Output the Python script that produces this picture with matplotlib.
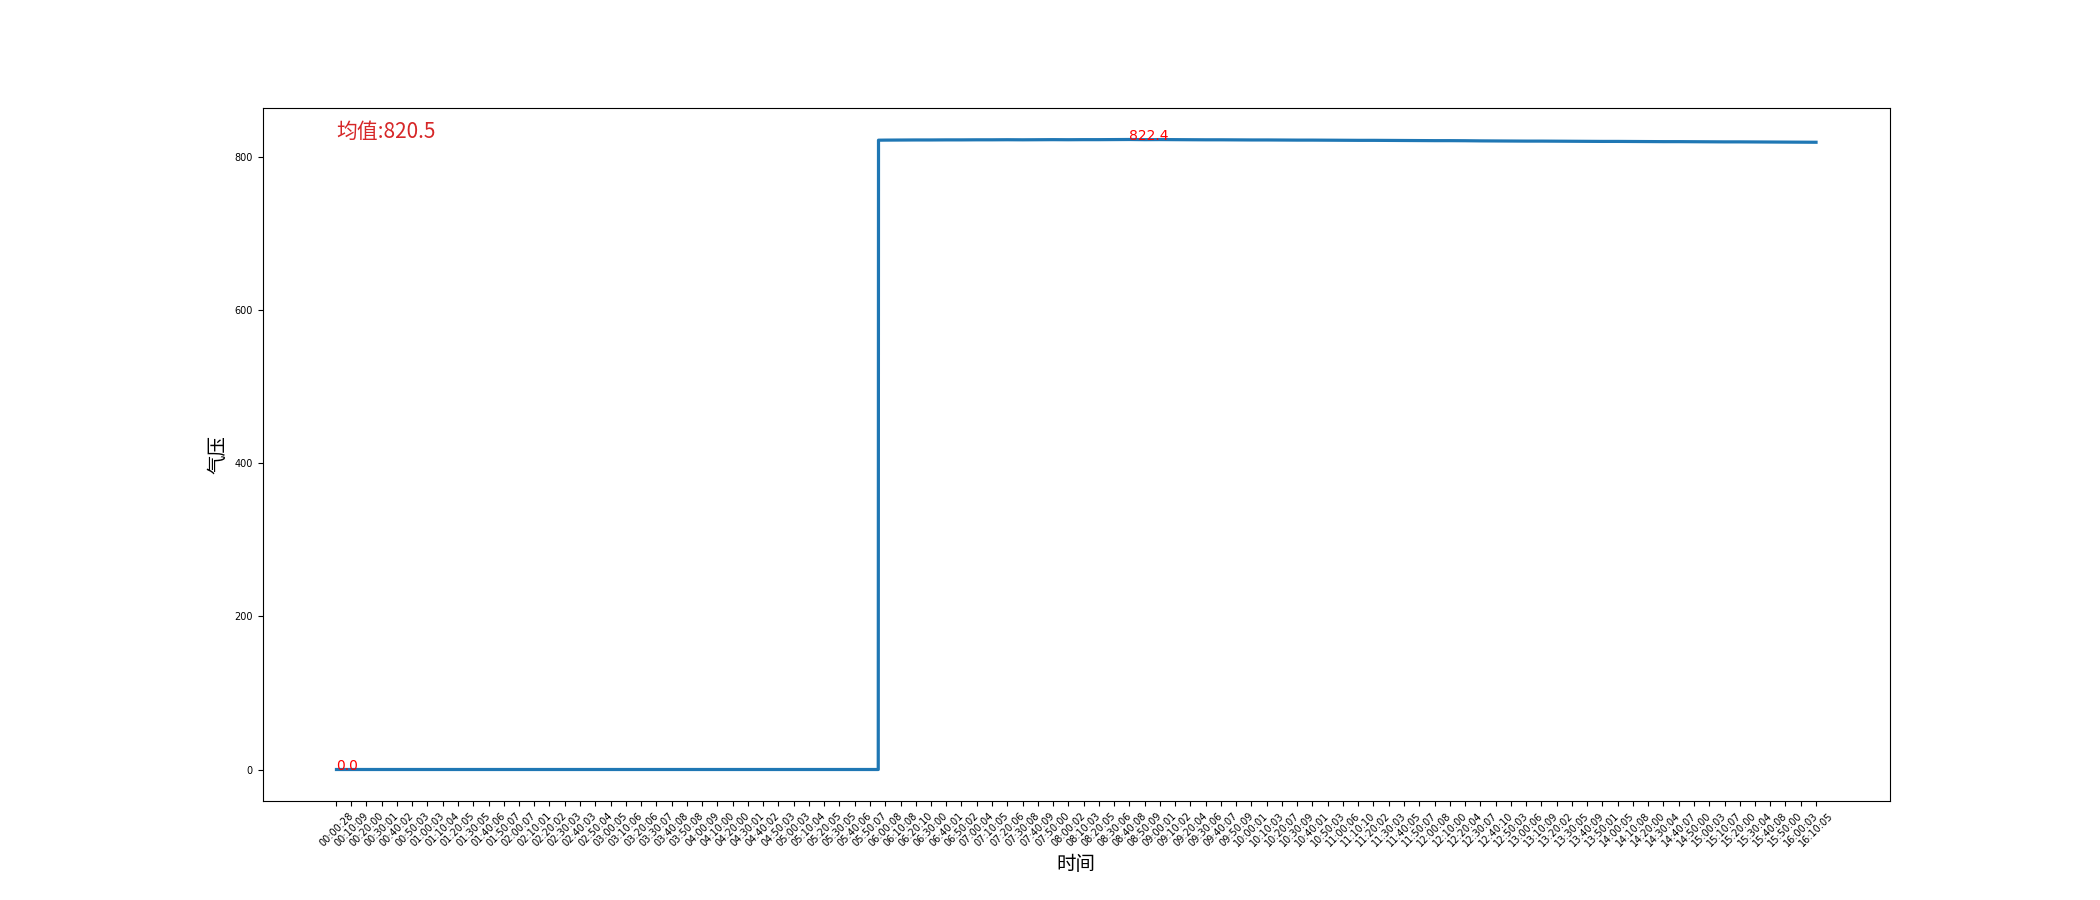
import matplotlib
matplotlib.use("Agg")
import matplotlib.pyplot as plt

CJK = ["Noto Sans CJK SC", "DejaVu Sans"]

# tick labels shown on the x axis (one every ~10 minutes)
tick_labels = [
    "00:00:28", "00:10:09", "00:20:00", "00:30:01", "00:40:02", "00:50:03",
    "01:00:03", "01:10:04", "01:20:05", "01:30:05", "01:40:06", "01:50:07",
    "02:00:07", "02:10:01", "02:20:02", "02:30:03", "02:40:03", "02:50:04",
    "03:00:05", "03:10:06", "03:20:06", "03:30:07", "03:40:08", "03:50:08",
    "04:00:09", "04:10:00", "04:20:00", "04:30:01", "04:40:02", "04:50:03",
    "05:00:03", "05:10:04", "05:20:05", "05:30:05", "05:40:06", "05:50:07",
    "06:00:08", "06:10:08", "06:20:10", "06:30:00", "06:40:01", "06:50:02",
    "07:00:04", "07:10:05", "07:20:06", "07:30:08", "07:40:09", "07:50:00",
    "08:00:02", "08:10:03", "08:20:05", "08:30:06", "08:40:08", "08:50:09",
    "09:00:01", "09:10:02", "09:20:04", "09:30:06", "09:40:07", "09:50:09",
    "10:00:01", "10:10:03", "10:20:07", "10:30:09", "10:40:01", "10:50:03",
    "11:00:06", "11:10:10", "11:20:02", "11:30:03", "11:40:05", "11:50:07",
    "12:00:08", "12:10:00", "12:20:04", "12:30:07", "12:40:10", "12:50:03",
    "13:00:06", "13:10:09", "13:20:02", "13:30:05", "13:40:09", "13:50:01",
    "14:00:05", "14:10:08", "14:20:00", "14:30:04", "14:40:07", "14:50:00",
    "15:00:03", "15:10:07", "15:20:00", "15:30:04", "15:40:08", "15:50:00",
    "16:00:03", "16:10:05",
]

# pressure read at each tick time (sensor reads 0 until ~05:55)
pressure_off = [0.0] * 36
pressure_on = [
    821.6, 821.7, 821.8, 821.8, 821.9, 821.9, 822.0, 822.0, 822.1, 822.0,
    822.1, 822.2, 822.1, 822.2, 822.2, 822.3, 822.4, 822.2, 822.3, 822.2,
    822.1, 822.0, 822.0, 821.9, 821.8, 821.8, 821.7, 821.6, 821.6, 821.5,
    821.4, 821.3, 821.3, 821.2, 821.1, 821.0, 820.9, 820.9, 820.8, 820.6,
    820.5, 820.4, 820.3, 820.3, 820.2, 820.1, 820.0, 819.9, 819.9, 819.8,
    819.7, 819.6, 819.6, 819.5, 819.4, 819.3, 819.3, 819.2, 819.1, 819.0,
    818.9, 818.8,
]
pressure_ticks = pressure_off + pressure_on

# samples right around the switch-on
jump_times = ["05:55:31", "05:55:41"]
jump_values = [0.0, 821.5]

mean_value = 820.5


def to_sec(s):
    h, m, sec = s.split(":")
    return int(h) * 3600 + int(m) * 60 + int(sec)


samples = sorted(
    [(to_sec(t), v) for t, v in zip(tick_labels, pressure_ticks)]
    + [(to_sec(t), v) for t, v in zip(jump_times, jump_values)]
)
xs = [s[0] for s in samples]
ys = [s[1] for s in samples]

fig = plt.figure(figsize=(21, 9), dpi=100)
ax = fig.add_subplot(111)
ax.plot(xs, ys, color="#1f77b4", linewidth=2.3)

ax.set_xticks([to_sec(t) for t in tick_labels])
ax.set_xticklabels(tick_labels, rotation=45, fontsize=7)
ax.tick_params(axis="y", labelsize=7)

ax.set_xlabel("时间", family=CJK, fontsize=14)
ax.set_ylabel("气压", family=CJK, fontsize=14)

# max / min annotations
i_max = ys.index(max(ys))
ax.text(xs[i_max], ys[i_max], f"{ys[i_max]:.1f}", color="red", fontsize=10)
i_min = ys.index(min(ys))
ax.text(xs[i_min], ys[i_min], f"{ys[i_min]:.1f}", color="red", fontsize=10)

ax.text(xs[0], max(ys) * 1.003, f"均值:{mean_value}", color="#d62728",
        fontsize=15, family=CJK)

fig.savefig("out.png", dpi=100)
